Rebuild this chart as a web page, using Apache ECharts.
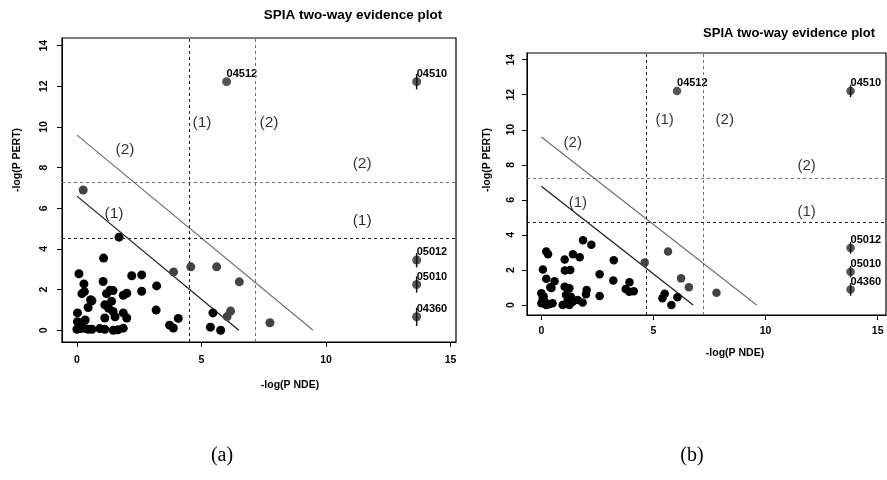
<!DOCTYPE html>
<html>
<head>
<meta charset="utf-8">
<title>SPIA two-way evidence plot</title>
<script src="https://cdn.jsdelivr.net/npm/echarts@6/dist/echarts.min.js"></script>
<style>
  html, body { margin: 0; padding: 0; background: #fff; }
  #chart { width: 887px; height: 480px; }
</style>
</head>
<body>
<div id="chart"></div>
<script>
// ---- data ----
var xTicks = [0, 5, 10, 15];
var yTicks = [0, 2, 4, 6, 8, 10, 12, 14];

// panel (a)
var aBlack = [[0.08,2.78],[1.07,3.55],[2.2,2.68],[2.6,2.72],[0.28,2.28],[1.05,2.4],[3.2,2.18],[1.33,1.97],
    [1.45,1.95],[0.2,1.8],[0.3,1.9],[1.19,1.8],[1.86,1.72],[2.0,1.82],[2.6,1.92],[0.55,1.5],[0.6,1.45],
    [1.39,1.42],[1.12,1.25],[1.27,1.08],[0.45,1.12],[1.45,0.92],[0.02,0.85],[3.18,0.99],[1.86,0.85],
    [1.53,0.66],[1.12,0.6],[2.0,0.6],[0.33,0.5],[0.02,0.42],[0.15,0.25],[0.0,0.05],[0.15,0.08],[0.3,0.1],
    [0.45,0.05],[0.6,0.05],[0.1,0.35],[0.92,0.08],[1.12,0.05],[1.46,0.0],[1.65,0.02],[1.86,0.1],
    [1.69,4.58],[3.72,0.25],[3.87,0.11],[4.07,0.58],[5.46,0.85],[5.36,0.15],[5.77,0.0]];
var aGray = [[0.25,6.9],[3.88,2.87],[4.57,3.12],[5.61,3.12],[6.52,2.38],[6.03,0.67],[6.17,0.94],[7.75,0.37]];
var aNames = ['04512', '04510', '05012', '05010', '04360'];
var aX = [6.01, 13.64, 13.64, 13.64, 13.64];
var aY = [12.23, 12.23, 3.45, 2.25, 0.66];
var aErr = [0, 0.38, 0.36, 0.4, 0.45];
var aVLines = [4.51, 7.15];
var aHLines = [4.55, 7.26];
var aDiag1 = [[0, 6.6], [6.5, 0]];
var aDiag2 = [[0, 9.6], [9.48, 0]];
var aTexts = [[1.93,8.9,'(2)'],[5.02,10.2,'(1)'],[7.71,10.2,'(2)'],[11.45,8.2,'(2)'],[1.49,5.75,'(1)'],[11.45,5.4,'(1)']];

// panel (b)
var bBlack = [[1.86,3.7],[2.23,3.44],[0.22,3.06],[0.3,2.9],[1.41,2.9],[1.71,2.72],[1.04,2.6],[3.23,2.56],
    [0.07,2.03],[1.05,1.97],[1.29,2.0],[2.6,1.76],[0.22,1.5],[0.59,1.35],[3.21,1.4],[3.93,1.3],[0.45,0.97],
    [0.4,1.02],[1.04,1.04],[1.25,0.95],[2.02,0.86],[1.99,0.61],[2.6,0.52],[3.76,0.92],[3.92,0.76],[4.12,0.78],
    [0.0,0.67],[0.06,0.38],[0.0,0.1],[0.21,0.0],[0.5,0.1],[0.15,0.2],[1.1,0.57],[1.32,0.47],[1.17,0.23],
    [1.4,0.19],[1.62,0.28],[1.84,0.15],[0.95,0.0],[1.25,0.0],[0.35,0.05],[0.1,0.5],[5.5,0.64],[5.4,0.38],
    [6.07,0.44],[5.8,0.0]];
var bGray = [[4.61,2.42],[5.65,3.06],[6.23,1.52],[6.58,1.01],[7.81,0.7]];
var bNames = ['04512', '04510', '05012', '05010', '04360'];
var bX = [6.05, 13.79, 13.79, 13.79, 13.79];
var bY = [12.21, 12.21, 3.26, 1.9, 0.89];
var bErr = [0, 0.35, 0.33, 0.33, 0.36];
var bVLines = [4.69, 7.21];
var bHLines = [4.71, 7.22];
var bDiag1 = [[0, 6.78], [6.77, 0]];
var bDiag2 = [[0, 9.59], [9.6, 0]];
var bTexts = [[1.4,9.23,'(2)'],[5.5,10.54,'(1)'],[8.18,10.54,'(2)'],[11.83,7.94,'(2)'],[1.63,5.83,'(1)'],[11.83,5.32,'(1)']];

var chart = echarts.init(document.getElementById('chart'));
var FONT = '"Liberation Sans", Arial, sans-serif';

function makeAxes(idx, xr, yr, xMargin, yMargin) {
    var x = {
        type: 'value', gridIndex: idx, min: xr[0], max: xr[1],
        splitLine: { show: false },
        axisLine: { onZero: false, lineStyle: { color: '#000', width: 1 } },
        axisTick: { customValues: xTicks, length: 5, lineStyle: { color: '#000' } },
        axisLabel: { customValues: xTicks, margin: xMargin, color: '#000', fontSize: 10.5, fontWeight: 'bold', fontFamily: FONT }
    };
    var y = {
        type: 'value', gridIndex: idx, min: yr[0], max: yr[1],
        splitLine: { show: false },
        axisLine: { onZero: false, lineStyle: { color: '#000', width: 1 } },
        axisTick: { customValues: yTicks, length: 5, lineStyle: { color: '#000' } },
        axisLabel: { customValues: yTicks, rotate: 90, margin: yMargin, color: '#000', fontSize: 10.5, fontWeight: 'bold', fontFamily: FONT }
    };
    return [x, y];
}

function errItem(params, api) {
    var p1 = api.coord([api.value(0), api.value(1)]);
    var p2 = api.coord([api.value(0), api.value(2)]);
    return {
        type: 'line',
        shape: { x1: p1[0], y1: p1[1], x2: p2[0], y2: p2[1] },
        style: { stroke: '#111', lineWidth: 1.5 }
    };
}

function makeSeries(idx, black, gray, names, xs, ys, errs, vl, hl, d1, d2, texts, size, textSize) {
    var labelled = [], bars = [];
    for (var i = 0; i < names.length; i++) {
        labelled.push({ name: names[i], value: [xs[i], ys[i]] });
        if (errs[i] > 0) bars.push([xs[i], ys[i] - errs[i], ys[i] + errs[i]]);
    }
    var marks = [];
    vl.forEach(function (v, k) {
        marks.push({ xAxis: v, lineStyle: { color: k === 0 ? '#222' : '#707070', type: [3, 3], width: 1 } });
    });
    hl.forEach(function (v, k) {
        marks.push({ yAxis: v, lineStyle: { color: k === 0 ? '#222' : '#707070', type: [3, 3], width: 1 } });
    });
    return [
        {
            type: 'line', xAxisIndex: idx, yAxisIndex: idx, data: d1, symbol: 'none',
            lineStyle: { color: '#1a1a1a', width: 1.2 }, z: 3,
            markLine: { silent: true, symbol: ['none', 'none'], label: { show: false }, data: marks }
        },
        {
            type: 'line', xAxisIndex: idx, yAxisIndex: idx, data: d2, symbol: 'none',
            lineStyle: { color: '#707070', width: 1.2 }, z: 3
        },
        {
            type: 'scatter', xAxisIndex: idx, yAxisIndex: idx, data: black,
            symbolSize: size, itemStyle: { color: '#000', opacity: 1 }, z: 4
        },
        {
            type: 'scatter', xAxisIndex: idx, yAxisIndex: idx, data: gray,
            symbolSize: size, itemStyle: { color: '#444', opacity: 1 }, z: 4
        },
        {
            type: 'scatter', xAxisIndex: idx, yAxisIndex: idx, data: labelled,
            symbolSize: size, itemStyle: { color: '#555', opacity: 1 }, z: 4,
            label: {
                show: true, formatter: '{b}', position: [size / 2, -3.5], align: 'left', verticalAlign: 'middle',
                color: '#000', fontSize: 11, fontWeight: 'bold', fontFamily: FONT
            }
        },
        {
            type: 'custom', xAxisIndex: idx, yAxisIndex: idx, data: bars,
            encode: { x: 0, y: [1, 2] }, renderItem: errItem, z: 5
        },
        {
            type: 'scatter', xAxisIndex: idx, yAxisIndex: idx,
            data: texts.map(function (t) { return { name: t[2], value: [t[0], t[1]] }; }),
            symbolSize: 1, itemStyle: { color: 'rgba(0,0,0,0)' }, z: 6,
            label: { show: true, formatter: '{b}', position: 'inside', color: '#000', fontSize: textSize, fontFamily: FONT }
        }
    ];
}

var axA = makeAxes(0, [-0.6, 15.22], [-0.58, 14.38], 13, 12);
var axB = makeAxes(1, [-0.64, 15.37], [-0.57, 14.38], 11, 10);

function txt(x, y, s, font, rot) {
    return {
        type: 'text', x: x, y: y, rotation: rot || 0,
        style: { text: s, font: font, fill: '#000', align: 'center', verticalAlign: 'middle' }
    };
}

var option = {
    backgroundColor: '#fff',
    animation: false,
    grid: [
        { left: 62, top: 38, width: 394, height: 304, show: true, borderColor: '#000', borderWidth: 1.2, backgroundColor: 'transparent' },
        { left: 527, top: 53, width: 359, height: 262, show: true, borderColor: '#000', borderWidth: 1.2, backgroundColor: 'transparent' }
    ],
    xAxis: [axA[0], axB[0]],
    yAxis: [axA[1], axB[1]],
    series: makeSeries(0, aBlack, aGray, aNames, aX, aY, aErr, aVLines, aHLines, aDiag1, aDiag2, aTexts, 9, 15.5)
        .concat(makeSeries(1, bBlack, bGray, bNames, bX, bY, bErr, bVLines, bHLines, bDiag1, bDiag2, bTexts, 8.5, 15)),
    graphic: [
        txt(353, 15, 'SPIA two-way evidence plot', 'bold 13.5px ' + FONT),
        txt(789, 33, 'SPIA two-way evidence plot', 'bold 13px ' + FONT),
        txt(290, 385, '-log(P NDE)', 'bold 10.5px ' + FONT),
        txt(735, 353, '-log(P NDE)', 'bold 10.5px ' + FONT),
        txt(17, 160, '-log(P PERT)', 'bold 10.5px ' + FONT, Math.PI / 2),
        txt(487, 160, '-log(P PERT)', 'bold 10.5px ' + FONT, Math.PI / 2),
        txt(222, 456, '(a)', '20px "Liberation Serif", "Times New Roman", serif'),
        txt(692, 456, '(b)', '20px "Liberation Serif", "Times New Roman", serif')
    ]
};
chart.setOption(option);
</script>
</body>
</html>
